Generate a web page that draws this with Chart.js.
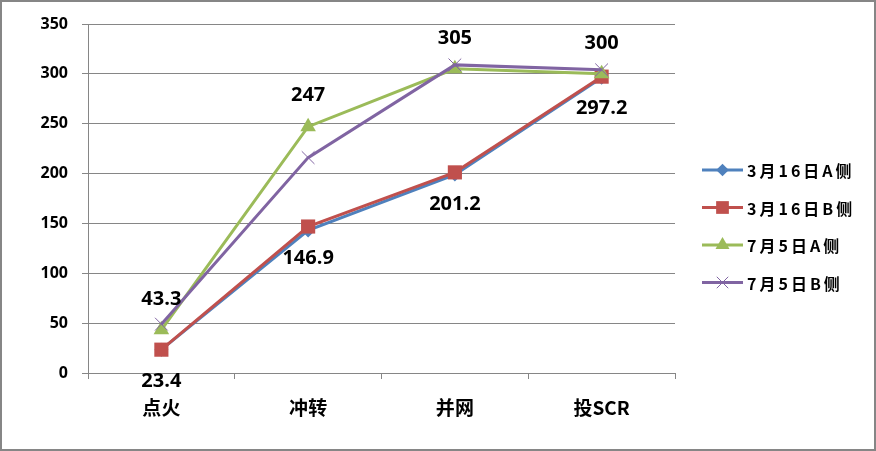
<!DOCTYPE html>
<html>
<head>
<meta charset="utf-8">
<script src="https://cdn.jsdelivr.net/npm/chart.js@4/dist/chart.umd.min.js"></script>
<style>
  html, body { margin: 0; padding: 0; background: #fff; }
  #wrap { width: 876px; height: 451px; position: relative; }
  canvas { display: block; }
</style>
</head>
<body>
<div id="wrap"><canvas id="c" width="876" height="451"></canvas></div>
<script>
const categories = ['点火', '冲转', '并网', '投SCR'];
const seriesNames = ['3月16日A侧', '3月16日B侧', '7月5日A侧', '7月5日B侧'];
const seriesA0316 = [23.4, 143, 199, 296];
const seriesB0316 = [23.4, 146.9, 201.2, 297.2];
const seriesA0705 = [43.3, 247, 305, 300];
const seriesB0705 = [49, 216, 309, 304];
const yTickValues = [0, 50, 100, 150, 200, 250, 300, 350];

const colors = ['#4F81BD', '#C0504D', '#9BBB59', '#8064A2'];
const styles = ['rectRot', 'rect', 'triangle', 'crossRot'];
const radii = [7, 10, 9, 9];

function mkDs(i, data, order) {
  const isCross = styles[i] === 'crossRot';
  return {
    label: seriesNames[i],
    data: data,
    borderColor: colors[i],
    backgroundColor: colors[i],
    borderWidth: 3,
    pointStyle: styles[i],
    pointRadius: radii[i],
    pointHoverRadius: radii[i],
    pointBackgroundColor: colors[i],
    pointBorderColor: colors[i],
    pointBorderWidth: isCross ? 1 : 0,
    tension: 0,
    order: order
  };
}

const labelPlugin = {
  id: 'valueLabels',
  afterDatasetsDraw(chart) {
    const ctx = chart.ctx;
    ctx.save();
    ctx.font = 'bold 20px "Open Sans", "Liberation Sans", sans-serif';
    ctx.fillStyle = '#000';
    ctx.textAlign = 'center';
    ctx.textBaseline = 'middle';
    const cfg = [[1, 32], [2, -31]];
    cfg.forEach(([di, off]) => {
      const meta = chart.getDatasetMeta(di);
      const ds = chart.data.datasets[di];
      meta.data.forEach((pt, j) => {
        ctx.fillText(String(ds.data[j]), pt.x, pt.y + off);
      });
    });
    ctx.restore();
  }
};

function drawMarker(ctx, style, x, y, r, color) {
  ctx.save();
  ctx.fillStyle = color;
  ctx.strokeStyle = color;
  ctx.beginPath();
  if (style === 'rectRot') {
    ctx.moveTo(x, y - r); ctx.lineTo(x + r, y); ctx.lineTo(x, y + r); ctx.lineTo(x - r, y); ctx.closePath(); ctx.fill();
  } else if (style === 'rect') {
    const s = r * Math.SQRT1_2;
    ctx.rect(x - s, y - s, 2 * s, 2 * s); ctx.fill();
  } else if (style === 'triangle') {
    ctx.moveTo(x, y - r);
    ctx.lineTo(x + r * Math.sin(Math.PI / 3), y + r * 0.5);
    ctx.lineTo(x - r * Math.sin(Math.PI / 3), y + r * 0.5);
    ctx.closePath(); ctx.fill();
  } else {
    const s = r * Math.SQRT1_2;
    ctx.lineWidth = 1;
    ctx.moveTo(x - s, y - s); ctx.lineTo(x + s, y + s);
    ctx.moveTo(x + s, y - s); ctx.lineTo(x - s, y + s);
    ctx.stroke();
  }
  ctx.restore();
}

const legendPlugin = {
  id: 'customLegend',
  afterDraw(chart) {
    const ctx = chart.ctx;
    const rowsY = [170, 207.5, 245, 282.5];
    ctx.save();
    chart.data.datasets.forEach((ds, i) => {
      const y = rowsY[i];
      ctx.strokeStyle = ds.borderColor;
      ctx.lineWidth = 3;
      ctx.beginPath();
      ctx.moveTo(702, y);
      ctx.lineTo(743, y);
      ctx.stroke();
      drawMarker(ctx, ds.pointStyle, 722.5, y, ds.pointRadius * 0.9, ds.borderColor);
      ctx.fillStyle = '#000';
      ctx.font = 'bold 16px "Noto Sans CJK SC", sans-serif';
      ctx.textAlign = 'left';
      ctx.textBaseline = 'middle';
      try { ctx.letterSpacing = '3px'; } catch (e) {}
      ctx.fillText(ds.label, 747, y + 1);
    });
    ctx.restore();
  }
};

const borderPlugin = {
  id: 'outerBorder',
  afterDraw(chart) {
    const ctx = chart.ctx;
    ctx.save();
    ctx.strokeStyle = '#868686';
    ctx.lineWidth = 2;
    ctx.strokeRect(1, 1, chart.width - 2, chart.height - 2);
    ctx.restore();
  }
};

new Chart(document.getElementById('c'), {
  type: 'line',
  data: {
    labels: categories,
    datasets: [
      mkDs(0, seriesA0316, 3),
      mkDs(1, seriesB0316, 2),
      mkDs(2, seriesA0705, 1),
      mkDs(3, seriesB0705, 0)
    ]
  },
  options: {
    responsive: false,
    animation: false,
    devicePixelRatio: 1,
    layout: { padding: { top: 24, right: 201, left: 0, bottom: 0 } },
    plugins: {
      legend: { display: false },
      tooltip: { enabled: false }
    },
    scales: {
      x: {
        offset: true,
        grid: { display: true, drawOnChartArea: false, offset: true, tickLength: 6, color: '#868686', lineWidth: 1 },
        border: { color: '#868686', width: 1 },
        ticks: {
          color: '#000',
          padding: 17,
          font: { family: '"Noto Sans CJK SC", sans-serif', size: 19, weight: 'bold' },
          maxRotation: 0
        },
        afterFit(scale) { scale.height = 78; }
      },
      y: {
        min: 0,
        max: 350,
        afterBuildTicks(scale) { scale.ticks = yTickValues.map(v => ({ value: v })); },
        grid: { color: '#868686', lineWidth: 1, tickLength: 6 },
        border: { color: '#868686', width: 1 },
        ticks: {
          color: '#000',
          padding: 14,
          font: { family: '"Open Sans", "Liberation Sans", sans-serif', size: 16, weight: 'bold' }
        },
        afterFit(scale) { scale.width = 88; }
      }
    }
  },
  plugins: [labelPlugin, legendPlugin, borderPlugin]
});
</script>
</body>
</html>
